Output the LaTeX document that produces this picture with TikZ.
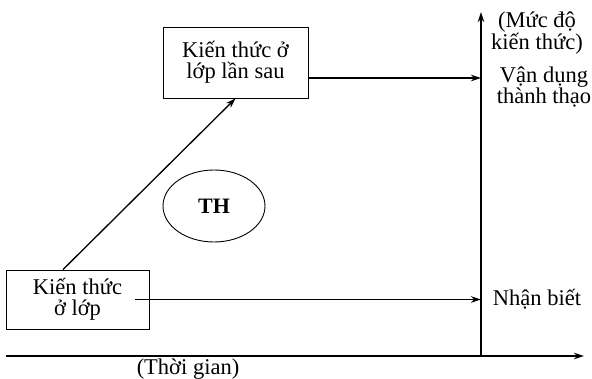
\documentclass[tikz,border=0pt]{standalone}
\usepackage{fontspec}
\setmainfont{Liberation Serif}
\usetikzlibrary{arrows.meta,shapes.geometric}
\tikzset{
  box/.style={draw,line width=0.9pt,rectangle,align=center,inner sep=0pt},
  arr/.style={line width=1.3pt,-{Stealth[length=10pt,width=6.5pt]}},
  lbl/.style={align=center,inner sep=0pt},
}
\begin{document}
\begin{tikzpicture}[x=1pt,y=-1pt,font=\fontsize{22.5}{21}\selectfont]
\useasboundingbox (0,0) rectangle (592,379);
% axes
\coordinate (O) at (481,356);
\coordinate (vt) at (481,12);
\coordinate (hl) at (6,356);
\coordinate (hr) at (584,356);
\draw[arr] (O) -- (vt);
\draw[arr] (hl) -- (hr);
% boxes
\node[box,minimum width=143pt,minimum height=59pt] (lowbox) at (77.5,299.5) {Kiến thức\\ở lớp};
\node[box,minimum width=145pt,minimum height=71pt] (upbox) at (235.5,62.5) {Kiến thức ở\\lớp lần sau};
\node[draw,ellipse,line width=0.9pt,minimum width=102pt,minimum height=72pt,inner sep=0pt,font=\fontsize{22}{22}\selectfont\bfseries] (th) at (214,206) {TH};
% connectors
\draw[arr] ([xshift=-14.5pt]lowbox.north) -- (upbox.south);
\coordinate (u1) at ([yshift=-15.5pt]upbox.east);
\draw[arr] (u1) -- (u1 -| O);
\coordinate (l1) at ([xshift=-14pt]lowbox.east);
\draw[arr] (l1) -- (l1 -| O);
% labels
\node[lbl] (muc) at (537,33) {(Mức độ\\kiến thức)};
\node[lbl] (vd) at (544,87) {Vận dụng\\thành thạo};
\node[lbl] (nb) at (537,299) {Nhận biết};
\node[lbl] (tg) at (188,369) {(Thời gian)};
\end{tikzpicture}
\end{document}
